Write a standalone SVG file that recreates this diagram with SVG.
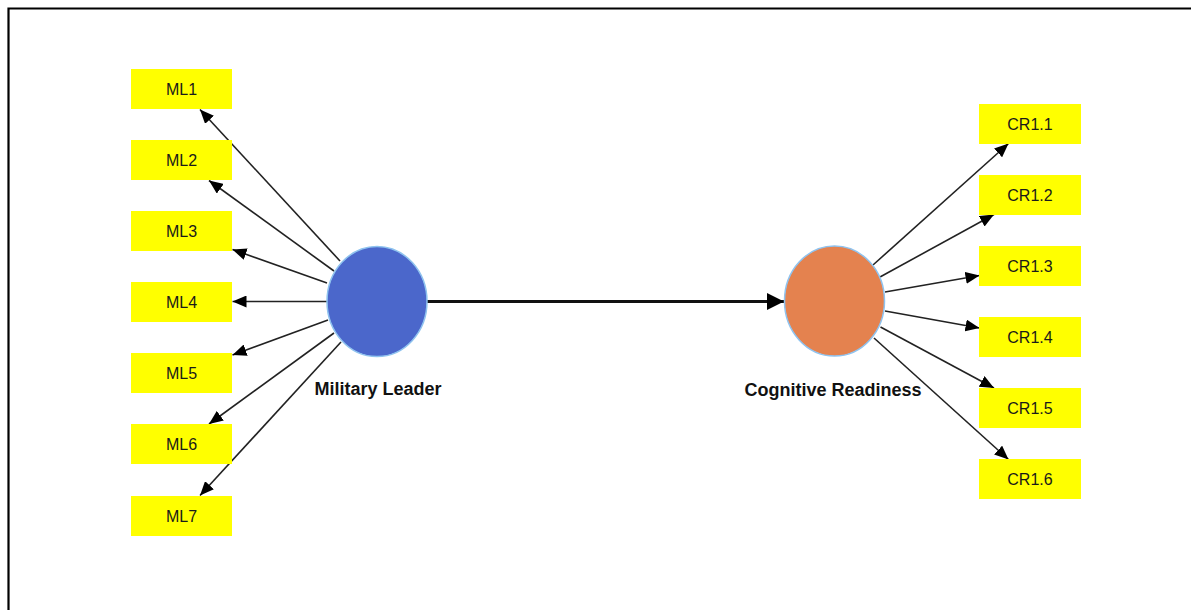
<svg xmlns="http://www.w3.org/2000/svg" width="1191" height="610" viewBox="0 0 1191 610">
<defs>
<style>
.box{fill:#FFFF00;}
.btxt{font-family:"Liberation Sans",Arial,sans-serif;font-size:16px;fill:#1a1a1a;text-anchor:middle;}
.ltxt{font-family:"Liberation Sans",Arial,sans-serif;font-size:18px;font-weight:bold;fill:#111;text-anchor:middle;}
.edge{stroke:#222;stroke-width:1.6;fill:none;marker-end:url(#ah);}
.main{stroke:#111;stroke-width:3;fill:none;marker-end:url(#ahBig);}
.lv{stroke:#8fc3ef;stroke-width:1.5;}
</style>
<marker id="ah" markerUnits="userSpaceOnUse" markerWidth="14" markerHeight="12" refX="14" refY="6" orient="auto">
<path d="M0,0 L14,6 L0,12 z" fill="#000"/>
</marker>
<marker id="ahBig" markerUnits="userSpaceOnUse" markerWidth="17" markerHeight="17" refX="17" refY="8.5" orient="auto">
<path d="M0,0 L17,8.5 L0,17 z" fill="#000"/>
</marker>
</defs>
<rect x="0" y="0" width="1191" height="610" fill="#fff"/>
<g id="frame" stroke="#000" stroke-width="2.2" fill="none">
<path d="M8.5,610 L8.5,8.5 L1191,8.5"/>
</g>
<g id="connectors">
<line class="main" x1="427" y1="301.5" x2="784" y2="301.5"/>
<line class="edge" x1="340" y1="261" x2="200" y2="109.5"/>
<line class="edge" x1="334" y1="271" x2="209" y2="180.5"/>
<line class="edge" x1="327" y1="283" x2="232.5" y2="249.5"/>
<line class="edge" x1="327" y1="301.5" x2="232.5" y2="301.5"/>
<line class="edge" x1="328" y1="320" x2="232.5" y2="355"/>
<line class="edge" x1="334" y1="333" x2="209" y2="424"/>
<line class="edge" x1="341" y1="342" x2="200" y2="495.5"/>
<line class="edge" x1="873" y1="265" x2="1008.5" y2="143.5"/>
<line class="edge" x1="880" y1="277" x2="994" y2="214.5"/>
<line class="edge" x1="885" y1="292" x2="979.5" y2="275.5"/>
<line class="edge" x1="885" y1="311" x2="979.5" y2="328"/>
<line class="edge" x1="880.5" y1="327" x2="994" y2="388"/>
<line class="edge" x1="874" y1="338" x2="1008.5" y2="459.5"/>
</g>
<g id="military-leader">
<ellipse class="lv" cx="377" cy="301.5" rx="50" ry="55" fill="#4B67CB"/>
<text class="ltxt" x="378" y="395">Military Leader</text>
</g>
<g id="cognitive-readiness">
<ellipse class="lv" cx="834.5" cy="301" rx="50" ry="55" fill="#E4824F"/>
<text class="ltxt" x="833" y="396">Cognitive Readiness</text>
</g>
<g id="ML1"><rect class="box" x="131" y="69" width="101" height="40"/><text class="btxt" x="181.5" y="95">ML1</text></g>
<g id="ML2"><rect class="box" x="131" y="140" width="101" height="40"/><text class="btxt" x="181.5" y="166">ML2</text></g>
<g id="ML3"><rect class="box" x="131" y="211" width="101" height="40"/><text class="btxt" x="181.5" y="237">ML3</text></g>
<g id="ML4"><rect class="box" x="131" y="282" width="101" height="40"/><text class="btxt" x="181.5" y="308">ML4</text></g>
<g id="ML5"><rect class="box" x="131" y="353" width="101" height="40"/><text class="btxt" x="181.5" y="379">ML5</text></g>
<g id="ML6"><rect class="box" x="131" y="424" width="101" height="40"/><text class="btxt" x="181.5" y="450">ML6</text></g>
<g id="ML7"><rect class="box" x="131" y="496" width="101" height="40"/><text class="btxt" x="181.5" y="522">ML7</text></g>
<g id="CR1.1"><rect class="box" x="979" y="104" width="102" height="40"/><text class="btxt" x="1030" y="130">CR1.1</text></g>
<g id="CR1.2"><rect class="box" x="979" y="175" width="102" height="40"/><text class="btxt" x="1030" y="201">CR1.2</text></g>
<g id="CR1.3"><rect class="box" x="979" y="246" width="102" height="40"/><text class="btxt" x="1030" y="272">CR1.3</text></g>
<g id="CR1.4"><rect class="box" x="979" y="317" width="102" height="40"/><text class="btxt" x="1030" y="343">CR1.4</text></g>
<g id="CR1.5"><rect class="box" x="979" y="388" width="102" height="40"/><text class="btxt" x="1030" y="414">CR1.5</text></g>
<g id="CR1.6"><rect class="box" x="979" y="459" width="102" height="40"/><text class="btxt" x="1030" y="485">CR1.6</text></g>
</svg>
